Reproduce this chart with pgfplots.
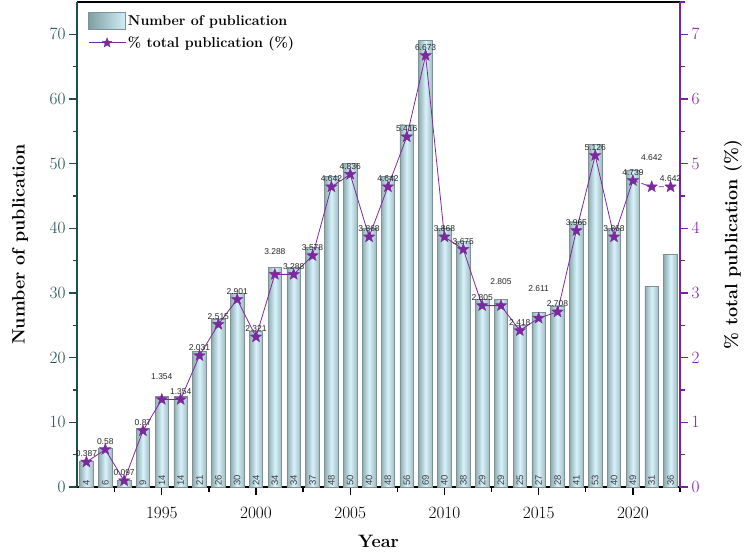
\documentclass[border=0pt]{standalone}
\usepackage{pgfplots}
\pgfplotsset{compat=1.18}
\usepackage{fontspec}
\newfontfamily\labfont{Liberation Sans}

\definecolor{barL}{HTML}{92ADB0}
\definecolor{barM}{HTML}{D6F2FC}
\definecolor{barR}{HTML}{A2BBBE}
\definecolor{barE}{HTML}{7C9294}
\definecolor{legL}{HTML}{7E9FA2}
\definecolor{legR}{HTML}{D2EEF8}
\definecolor{pur}{HTML}{7B2A9E}
\definecolor{purax}{HTML}{7D1FA0}
\definecolor{tealax}{HTML}{1E4D4D}

\pgfdeclareplotmark{fstar}{%
  \pgfpathmoveto{\pgfpointpolar{90}{\pgfplotmarksize}}%
  \pgfpathlineto{\pgfpointpolar{126}{0.42\pgfplotmarksize}}%
  \pgfpathlineto{\pgfpointpolar{162}{\pgfplotmarksize}}%
  \pgfpathlineto{\pgfpointpolar{198}{0.42\pgfplotmarksize}}%
  \pgfpathlineto{\pgfpointpolar{234}{\pgfplotmarksize}}%
  \pgfpathlineto{\pgfpointpolar{270}{0.42\pgfplotmarksize}}%
  \pgfpathlineto{\pgfpointpolar{306}{\pgfplotmarksize}}%
  \pgfpathlineto{\pgfpointpolar{342}{0.42\pgfplotmarksize}}%
  \pgfpathlineto{\pgfpointpolar{18}{\pgfplotmarksize}}%
  \pgfpathlineto{\pgfpointpolar{54}{0.42\pgfplotmarksize}}%
  \pgfpathclose
  \pgfusepathqfillstroke}

\pgfplotstableread{
x n
1991 4
1992 6
1993 1
1994 9
1995 14
1996 14
1997 21
1998 26
1999 30
2000 24
2001 34
2002 34
2003 37
2004 48
2005 50
2006 40
2007 48
2008 56
2009 69
2010 40
2011 38
2012 29
2013 29
2014 25
2015 27
2016 28
2017 41
2018 53
2019 40
2020 49
2021 31
2022 36
}\cnttab

\pgfplotstableread{
x y dy
1991 0.387 0
1992 0.58 0
1993 0.097 0
1994 0.87 0
1995 1.354 15
1996 1.354 0
1997 2.031 0
1998 2.515 0
1999 2.901 0
2000 2.321 0
2001 3.288 15
2002 3.288 0
2003 3.578 0
2004 4.642 0
2005 4.836 0
2006 3.868 0
2007 4.642 0
2008 5.416 0
2009 6.673 0
2010 3.868 0
2011 3.675 0
2012 2.805 0
2013 2.805 16
2014 2.418 0
2015 2.611 21
2016 2.708 0
2017 3.965 0
2018 5.126 0
2019 3.868 0
2020 4.739 0
}\pcttab

\pgfplotstableread{
x y dy
2021 4.642 21
2022 4.642 0
}\pcttail

\begin{document}
\begin{tikzpicture}
\useasboundingbox (0,0) rectangle (750bp,556bp);
\begin{axis}[
  at={(77bp,69bp)}, anchor=south west,
  scale only axis, width=603bp, height=485bp,
  xmin=1990.5, xmax=2022.5, ymin=0, ymax=75,
  axis y line*=left,
  xtick pos=left,
  xtick={1995,2000,...,2020},
  minor xtick={1992.5,1997.5,...,2022.5},
  ytick={0,10,...,70},
  minor ytick={5,15,...,65},
  tick align=outside,
  major tick length=8bp, minor tick length=4.5bp,
  axis line style={line width=1.3bp},
  y axis line style={tealax},
  ytick style={tealax, line width=1.3bp},
  xtick style={black, line width=1.3bp},
  yticklabel style={text=tealax, font=\fontsize{17}{17}\selectfont},
  xticklabel style={font=\fontsize{17}{17}\selectfont, yshift=-9bp},
  /pgf/number format/1000 sep={},
  ylabel={Number of publication},
  xlabel={Year},
  every axis y label/.style={at={(axis description cs:0,0.5)}, xshift=-57bp, rotate=90, anchor=center, font=\bfseries\fontsize{18}{18}\selectfont},
  every axis x label/.style={at={(axis description cs:0.5,0)}, yshift=-54bp, anchor=center, font=\bfseries\fontsize{18}{18}\selectfont},
  clip=false,
]
\pgfplotsinvokeforeach{1991,...,2022}{
\addplot[ybar, bar width=0.72, draw=barE, line width=0.7bp,
  left color=barL, right color=barR, middle color=barM,
  restrict x to domain=#1:#1]
  table[x=x, y=n] {\cnttab};
}
\addplot[draw=none, mark=none, nodes near coords, point meta=explicit symbolic,
  nodes near coords style={rotate=90, anchor=west, inner sep=1bp,
    font=\labfont\fontsize{9.5}{9.5}\selectfont, text=black!75}]
  coordinates {
  (1991,0) [4] (1992,0) [6] (1993,0) [1] (1994,0) [9] (1995,0) [14] (1996,0) [14]
  (1997,0) [21] (1998,0) [26] (1999,0) [30] (2000,0) [24] (2001,0) [34] (2002,0) [34]
  (2003,0) [37] (2004,0) [48] (2005,0) [50] (2006,0) [40] (2007,0) [48] (2008,0) [56]
  (2009,0) [69] (2010,0) [40] (2011,0) [38] (2012,0) [29] (2013,0) [29] (2014,0) [25]
  (2015,0) [27] (2016,0) [28] (2017,0) [41] (2018,0) [53] (2019,0) [40] (2020,0) [49]
  (2021,0) [31] (2022,0) [36]};
\end{axis}
\begin{axis}[
  at={(77bp,69bp)}, anchor=south west,
  scale only axis, width=603bp, height=485bp,
  xmin=1990.5, xmax=2022.5, ymin=0, ymax=7.5,
  axis x line=none, axis y line*=right,
  ytick={0,...,7},
  minor ytick={0.5,1.5,...,7.5},
  tick align=outside,
  major tick length=8bp, minor tick length=4.5bp,
  axis line style={line width=1.3bp},
  y axis line style={purax},
  ytick style={purax, line width=1.3bp},
  yticklabel style={text=purax, font=\fontsize{17}{17}\selectfont},
  ylabel={\% total publication (\%)},
  every axis y label/.style={at={(axis description cs:1,0.5)}, xshift=53bp, rotate=90, anchor=center, font=\bfseries\fontsize{18}{18}\selectfont},
  clip=false,
  legend style={at={(axis description cs:0,1)}, anchor=north west, xshift=8bp, yshift=-8bp,
    draw=none, fill=none, font=\bfseries\fontsize{14.3}{14.3}\selectfont, row sep=5bp},
  legend cell align=left,
]
\addlegendimage{legend image code/.code={\draw[draw=barE, line width=0.6bp, left color=legL, right color=legR] (0bp,-8bp) rectangle (37bp,9bp);}}
\addlegendentry{Number of publication}
\addlegendimage{legend image code/.code={\draw[pur, line width=0.8bp] (0bp,0bp) -- (37bp,0bp);
  \draw[pur, fill=pur, mark=fstar, mark size=5bp] plot coordinates {(18.5bp,0bp)};}}
\addlegendentry{\% total publication (\%)}
\addplot[forget plot, pur, line width=0.8bp, dash pattern=on 5bp off 4bp] coordinates {(2020,4.739) (2021,4.642) (2022,4.642)};
\addplot[forget plot, pur, line width=0.8bp, mark=fstar, mark size=6bp,
  mark options={solid, fill=pur, draw=pur, line width=0.4bp},
  nodes near coords, point meta=explicit symbolic,
  visualization depends on={\thisrow{dy} \as \dy},
  nodes near coords style={anchor=south, inner sep=0.5bp, yshift=4.5+\dy,
    font=\labfont\fontsize{8.5}{9}\selectfont, text=black!85}]
  table[x=x, y=y, meta=y] {\pcttab};
\addplot[forget plot, only marks, pur, mark=fstar, mark size=6bp,
  mark options={solid, fill=pur, draw=pur, line width=0.4bp},
  nodes near coords, point meta=explicit symbolic,
  visualization depends on={\thisrow{dy} \as \dy},
  nodes near coords style={anchor=south, inner sep=0.5bp, yshift=4.5+\dy,
    font=\labfont\fontsize{8.5}{9}\selectfont, text=black!85}]
  table[x=x, y=y, meta=y] {\pcttail};
\end{axis}
\end{tikzpicture}
\end{document}
